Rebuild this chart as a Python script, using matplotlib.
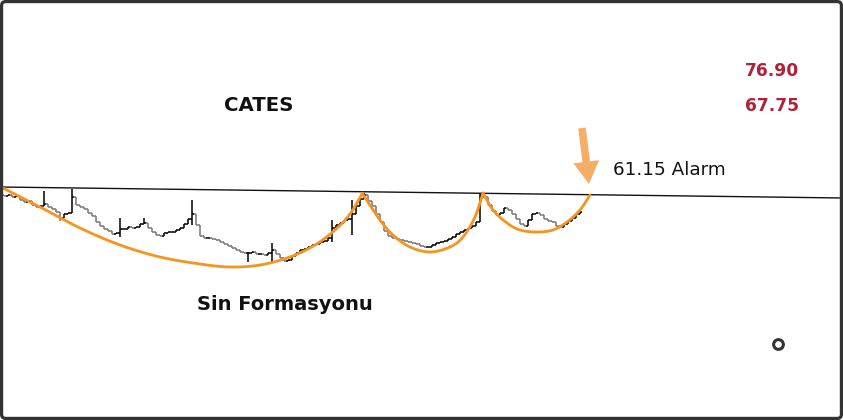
import matplotlib
matplotlib.use("Agg")
import matplotlib.pyplot as plt
import numpy as np
from matplotlib.collections import LineCollection
from matplotlib.patches import FancyBboxPatch, FancyArrowPatch

# ---------------- data ----------------
closes = [
    60.85, 60.95, 60.75, 60.85, 60.45, 60.25, 60.35, 59.95, 59.75, 59.85,
    60.05, 59.75, 59.55, 59.25, 58.65, 59.05, 59.15, 60.75, 59.95, 59.75,
    59.55, 59.15, 58.85, 58.25, 57.85, 57.55, 57.35, 57.05, 57.15, 57.55,
    57.55, 57.75, 57.65, 57.75, 58.05, 58.15, 57.65, 57.25, 56.95, 56.85,
    57.15, 57.25, 57.25, 57.45, 57.65, 58.05, 58.55, 59.05, 57.95, 56.85,
    56.65, 56.65, 56.55, 56.45, 56.25, 56.05, 55.85, 55.65, 55.45, 55.25,
    55.15, 55.15, 55.25, 55.05, 55.05, 54.95, 55.15, 55.45, 55.05, 54.65,
    54.35, 54.45, 54.85, 55.15, 55.45, 55.55, 55.75, 55.95, 56.05, 56.25,
    56.35, 56.65, 57.65, 57.95, 58.15, 58.45, 58.55, 59.05, 59.85, 60.55,
    60.95, 60.35, 59.85, 59.05, 58.25, 57.35, 56.85, 56.65, 56.55, 56.45,
    56.35, 56.25, 56.15, 56.05, 55.85, 55.75, 55.75, 55.95, 56.15, 56.25,
    56.35, 56.55, 56.75, 57.05, 57.25, 57.45, 57.65, 57.85, 58.25, 60.85,
    60.75, 59.95, 59.35, 58.95, 59.15, 59.65, 59.45, 59.05, 58.55, 58.05,
    57.85, 58.45, 59.05, 59.15, 58.95, 58.55, 58.35, 58.25, 57.85, 57.75,
    58.05, 58.35, 58.65, 59.05, 59.25,
]
first_open = 60.95
# bars with visible wicks beyond open/close: index -> (high, low)
wick_idx = [10, 14, 17, 29, 35, 47, 61, 67, 82, 87, 90, 119, 120]
wick_high = [61.35, 59.25, 61.55, 58.65, 58.65, 60.45, 55.25, 56.15, 58.45, 60.45, 61.15, 61.15, 61.15]
wick_low = [59.85, 58.35, 59.15, 56.75, 58.05, 57.95, 54.25, 54.15, 56.25, 56.95, 60.55, 58.25, 60.65]

# resistance line (index, price)
res_x = [-1.0, 209.75]
res_y = [61.75, 60.65]

# cup curves anchor points (index, price)
cup1_x = [-0.25, 9.0, 19.0, 29.0, 39.0, 49.0, 56.5, 64.0, 71.5, 77.75, 82.75, 86.5, 89.5]
cup1_y = [61.65, 59.75, 57.65, 55.95, 54.75, 54.05, 53.75, 53.95, 54.75, 55.95, 57.45, 59.05, 61.05]
cup2_x = [89.5, 94.0, 97.25, 101.5, 106.5, 111.5, 114.75, 117.75, 119.75]
cup2_y = [61.15, 58.45, 56.95, 55.75, 55.25, 55.75, 56.75, 58.75, 61.15]
cup3_x = [119.75, 122.25, 125.75, 129.0, 133.25, 137.25, 140.75, 144.0, 146.5]
cup3_y = [61.15, 59.45, 58.15, 57.45, 57.25, 57.45, 58.25, 59.45, 60.95]

arrow_tail = (144.5, 67.65)
arrow_tip = (146.25, 62.05)

# ---------------- figure ----------------
W, H = 843, 420
fig = plt.figure(figsize=(W / 100, H / 100), dpi=100)
ax = fig.add_axes([0, 0, 1, 1])
ax.set_xlim(-1.0, 209.75)
ax.set_ylim(38.45, 80.45)
ax.axis("off")

# OHLC bars
n = len(closes)
opens = [first_open] + closes[:-1]
highs = [max(o, c) for o, c in zip(opens, closes)]
lows = [min(o, c) for o, c in zip(opens, closes)]
for k, i in enumerate(wick_idx):
    highs[i] = max(highs[i], wick_high[k])
    lows[i] = min(lows[i], wick_low[k])

tick = 0.55
up_segs, dn_segs = [], []
for i in range(n):
    o, h, l, c = opens[i], highs[i], lows[i], closes[i]
    segs = [[(i, l), (i, h)], [(i - tick, o), (i, o)], [(i, c), (i + tick, c)]]
    (up_segs if c >= o else dn_segs).extend(segs)
ax.add_collection(LineCollection(dn_segs, colors="#777777", linewidths=1.1))
ax.add_collection(LineCollection(up_segs, colors="#000000", linewidths=1.1))

# resistance line
ax.plot(res_x, res_y, color="#111111", lw=1.0)


def smooth(xs, ys, m=24):
    pts = np.column_stack([xs, ys])
    P = np.vstack([2 * pts[0] - pts[1], pts, 2 * pts[-1] - pts[-2]])
    out = []
    for j in range(1, len(P) - 2):
        p0, p1, p2, p3 = P[j - 1], P[j], P[j + 1], P[j + 2]
        t = np.linspace(0, 1, m, endpoint=False)[:, None]
        seg = 0.5 * ((2 * p1) + (-p0 + p2) * t + (2 * p0 - 5 * p1 + 4 * p2 - p3) * t ** 2
                     + (-p0 + 3 * p1 - 3 * p2 + p3) * t ** 3)
        out.append(seg)
    out.append(pts[-1:])
    return np.vstack(out)


orange = "#f7931e"
for xs, ys in [(cup1_x, cup1_y), (cup2_x, cup2_y), (cup3_x, cup3_y)]:
    c = smooth(xs, ys)
    ax.plot(c[:, 0], c[:, 1], color=orange, lw=2.0, solid_capstyle="round")

# arrow
arr = FancyArrowPatch(arrow_tail, arrow_tip,
                      arrowstyle="simple,head_length=0.95,head_width=1.1,tail_width=0.32",
                      mutation_scale=17, color="#f6ae66", lw=0, shrinkA=0, shrinkB=0)
ax.add_patch(arr)

# small ring
ax.plot([778 / W], [1 - 344 / H], transform=ax.transAxes, marker="o", ms=7,
        mfc="white", mec="#333333", mew=2.2)

# texts
def ftext(x, y, s, **kw):
    fig.text(x / W, 1 - y / H, s, va="baseline", ha="left", family="DejaVu Sans", **kw)

ftext(224, 111, "CATES", fontsize=14.2, fontweight="bold", color="#111111")
ftext(197, 310, "Sin Formasyonu", fontsize=14, fontweight="bold", color="#111111")
ftext(613, 175, "61.15 Alarm", fontsize=13.2, color="#111111")
ftext(745, 76, "76.90", fontsize=12.3, fontweight="bold", color="#b0213a")
ftext(745, 111, "67.75", fontsize=12.3, fontweight="bold", color="#b0213a")

# border
border = FancyBboxPatch((0.016, 0.016), W / 100 - 0.032, H / 100 - 0.032,
                        boxstyle="round,pad=0,rounding_size=0.04",
                        transform=fig.dpi_scale_trans, fill=False,
                        edgecolor="#333333", linewidth=2.3)
fig.patches.append(border)

fig.savefig("out.png", dpi=100, facecolor="white")
